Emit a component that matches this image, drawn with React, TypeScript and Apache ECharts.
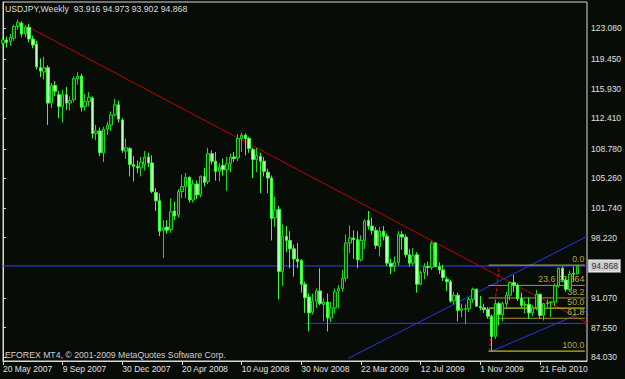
import React, { useEffect, useRef } from "react";
import * as echarts from "echarts";

// Weekly USDJPY bars, bar 0 = week of 20 May 2007
const opens = [
  121.3, 121.7, 121.5, 121.9, 123.3, 123.7, 122.4, 123.2, 121.8, 121.2,
  118.4, 117.9, 118.4, 114.2, 116.3, 115.2, 113.8, 115.2, 114.2, 114.6,
  117.1, 117.4, 113.8, 114.4, 114.8, 110.6, 110.9, 108.3, 111.1, 111.6,
  112.8, 114.0, 112.2, 108.5, 108.8, 106.9, 106.7, 106.5, 106.9, 107.8,
  107.1, 103.6, 102.6, 99.1, 99.5, 99.2, 101.4, 100.9, 103.7, 104.3,
  105.4, 102.7, 104.6, 103.3, 105.5, 104.9, 108.2, 107.3, 106.1, 106.8,
  106.3, 107.0, 107.8, 107.7, 110.0, 110.4, 110.0, 108.7, 107.5, 107.9,
  107.3, 106.0, 105.3, 100.6, 101.6, 94.2, 98.4, 97.9, 96.9, 95.7,
  95.5, 92.7, 91.2, 89.4, 90.7, 91.9, 90.3, 90.6, 88.7, 89.9,
  91.9, 92.2, 93.4, 97.6, 98.2, 98.0, 95.6, 97.9, 100.3, 99.6,
  99.1, 97.2, 99.0, 98.4, 95.2, 94.8, 95.3, 98.6, 98.3, 96.2,
  95.2, 96.2, 92.7, 94.1, 94.8, 94.7, 97.6, 94.8, 94.4, 93.3,
  93.0, 90.7, 91.4, 89.6, 89.7, 89.8, 90.9, 92.1, 90.1, 89.9,
  89.7, 88.9, 86.5, 90.4, 89.1, 90.4, 91.4, 92.9, 92.6, 91.0,
  90.2, 90.3, 89.3, 89.9, 91.5, 89.0, 90.4, 90.5, 90.6, 92.5,
  94.6, 93.2, 92.1, 94.0, 93.916,
];
const highs = [
  122.0, 122.1, 122.4, 123.5, 124.1, 123.9, 123.4, 123.6, 122.2, 121.6,
  119.5, 119.7, 118.7, 116.6, 116.8, 115.6, 115.8, 116.1, 115.0, 117.4,
  117.9, 117.7, 115.3, 115.5, 115.0, 111.6, 111.3, 111.4, 112.0, 113.2,
  114.7, 114.5, 112.4, 110.0, 109.0, 107.9, 107.4, 107.8, 108.5, 108.3,
  108.0, 104.1, 103.5, 100.3, 100.3, 102.9, 102.5, 104.0, 105.7, 105.9,
  105.5, 105.1, 105.0, 105.6, 106.5, 108.9, 108.6, 108.4, 107.1, 107.6,
  107.8, 108.2, 108.4, 110.5, 110.7, 110.6, 110.2, 108.9, 108.9, 108.3,
  107.8, 106.4, 105.6, 103.1, 102.0, 99.8, 99.6, 99.0, 97.4, 97.6,
  95.7, 93.0, 91.6, 91.6, 92.2, 94.6, 91.0, 91.6, 90.6, 92.2,
  92.6, 94.4, 98.6, 99.7, 99.1, 99.0, 98.5, 100.4, 101.4, 100.6,
  99.5, 99.5, 99.6, 98.7, 95.7, 96.0, 99.0, 99.0, 98.6, 96.9,
  97.0, 96.5, 94.3, 95.2, 95.4, 97.8, 97.7, 95.3, 95.0, 93.6,
  93.2, 91.8, 91.7, 90.4, 90.3, 91.2, 92.3, 92.2, 91.3, 90.4,
  90.0, 89.1, 90.8, 90.6, 90.6, 91.8, 93.0, 93.8, 92.8, 91.7,
  90.7, 91.1, 90.2, 92.0, 91.6, 90.5, 90.9, 90.7, 92.8, 94.7,
  94.8, 93.5, 94.3, 94.8, 94.973,
];
const lows = [
  120.9, 120.8, 121.0, 121.6, 122.9, 122.0, 122.0, 121.4, 120.7, 118.2,
  117.3, 117.0, 111.6, 113.6, 115.0, 112.4, 111.9, 113.4, 113.3, 114.3,
  116.4, 113.2, 113.3, 113.8, 110.0, 109.8, 107.9, 107.2, 110.4, 110.9,
  112.6, 111.9, 108.3, 107.6, 105.5, 104.9, 105.9, 105.5, 106.2, 106.6,
  103.5, 101.4, 98.4, 95.8, 98.7, 98.8, 100.3, 100.6, 102.9, 102.9,
  102.4, 102.4, 102.8, 103.0, 104.3, 104.6, 106.9, 105.0, 104.9, 105.6,
  103.8, 106.0, 107.2, 107.3, 108.4, 108.0, 108.3, 105.3, 106.0, 103.5,
  105.5, 103.5, 97.9, 99.5, 90.9, 92.5, 96.5, 94.6, 93.6, 94.6,
  91.7, 89.3, 87.1, 89.1, 89.9, 90.2, 88.3, 87.1, 88.2, 89.2,
  89.8, 91.8, 93.0, 96.4, 95.7, 94.6, 95.4, 96.9, 99.2, 98.6,
  96.9, 96.0, 97.9, 94.9, 93.9, 94.2, 94.9, 96.8, 95.9, 94.8,
  94.9, 91.7, 92.6, 93.3, 93.7, 94.4, 94.7, 93.9, 93.1, 91.9,
  90.5, 90.3, 88.3, 88.8, 88.0, 89.4, 90.5, 90.0, 89.6, 89.3,
  88.6, 84.77, 86.2, 87.8, 88.3, 90.0, 90.8, 91.8, 90.7, 89.9,
  89.2, 88.6, 88.9, 89.6, 88.6, 88.4, 90.0, 88.8, 90.1, 92.3,
  93.0, 91.8, 91.9, 93.1, 93.902,
];
const closes = [
  121.7, 121.4, 122.0, 123.3, 123.8, 122.4, 123.2, 121.8, 121.1, 118.5,
  118.0, 118.4, 114.2, 116.3, 115.6, 113.8, 115.2, 114.2, 114.5, 117.1,
  117.4, 113.7, 114.4, 114.9, 110.6, 110.9, 108.3, 111.1, 111.6, 112.8,
  114.0, 112.3, 108.6, 108.9, 106.9, 106.7, 106.5, 107.2, 107.8, 107.1,
  103.7, 102.6, 99.0, 99.4, 99.1, 101.3, 100.8, 103.7, 104.3, 105.4,
  102.7, 104.6, 103.3, 105.5, 104.8, 108.2, 107.3, 106.1, 106.6, 106.3,
  107.0, 107.8, 107.6, 110.0, 110.4, 110.0, 108.8, 107.5, 108.0, 107.3,
  106.1, 105.3, 100.5, 101.5, 94.2, 98.4, 97.9, 96.9, 95.7, 95.4,
  92.7, 91.1, 89.3, 90.7, 91.9, 90.4, 90.6, 88.7, 89.9, 91.8,
  92.2, 93.4, 97.6, 98.2, 98.0, 95.6, 97.9, 100.2, 99.6, 99.1,
  97.3, 99.0, 98.4, 95.2, 94.8, 95.3, 98.6, 98.3, 96.2, 95.2,
  96.1, 92.7, 94.1, 94.8, 94.7, 97.6, 94.8, 94.4, 93.5, 93.0,
  90.7, 91.4, 89.6, 89.8, 89.8, 90.9, 92.1, 90.1, 89.9, 89.7,
  88.9, 86.5, 90.4, 89.1, 90.4, 91.4, 92.9, 92.6, 91.0, 90.2,
  90.3, 89.3, 89.9, 91.5, 89.0, 90.4, 90.5, 90.6, 92.5, 94.6,
  93.2, 92.1, 93.9, 93.9, 94.868,
];

const xTickIndex = [0, 16, 32, 48, 64, 80, 96, 112, 128, 144];
const xTickLabels = [
  "20 May 2007", "9 Sep 2007", "30 Dec 2007", "20 Apr 2008", "10 Aug 2008",
  "30 Nov 2008", "22 Mar 2009", "12 Jul 2009", "1 Nov 2009", "21 Feb 2010",
];
const yTickValues = [84.03, 87.55, 91.07, 98.22, 101.74, 105.26, 108.78, 112.41, 115.93, 119.45, 123.08];

const redTrend = [[4.8, 123.7], [156.6, 88.12]];
const blueUpTrend = [[92.6, 83.91], [156.6, 98.38]];
const blueLowTrend = [[131.1, 84.77], [156.6, 89.6]];
const blueRay = [[81.1, 88.06], [156.6, 88.06]];
const bidLine = [[0, 94.868], [156.6, 94.868]];
const bidPrice = 94.868;

const fibHigh = 94.973;
const fibLow = 84.765;
const fibRange = [130.2, 156.0];
const fibLevels = [0, 23.6, 38.2, 50, 61.8, 100];
const fibTexts = ["0.0", "23.6 92.564", "38.2", "50.0", "61.8", "100.0"];
const fibColors = ["#c2b03a", "#a8962e", "#a8962e", "#f0ec28", "#a8962e", "#eee22a"];
const fibDiagonal = [[130.4, fibLow], [133.1, fibHigh]];

const titleText = "USDJPY,Weekly  93.916 94.973 93.902 94.868";
const footerText = "EFOREX MT4, \u00a9 2001-2009 MetaQuotes Software Corp.";

const FONT = "Liberation Sans, Arial, sans-serif";
const X_MIN = 0;
const X_MAX = 156.6;

export default function App() {
  const ref = useRef<HTMLDivElement>(null);

  useEffect(() => {
    if (!ref.current) return;
    const chart = echarts.init(ref.current, null, { renderer: "svg" });

    const candles = opens.map((o, i) => [i, o, closes[i], lows[i], highs[i]]);
    const fibValue = (lvl: number) => fibHigh - (lvl / 100) * (fibHigh - fibLow);

    const lineSeries = (name: string, data: number[][], color: string, extra: any = {}) => ({
      type: "line",
      name,
      data,
      symbol: "none",
      silent: true,
      z: 2,
      lineStyle: { color, width: 1, ...extra },
      animation: false,
    });

    const fibSeries = fibLevels.map((lvl, k) =>
      lineSeries(
        "fib" + lvl,
        [[fibRange[0], fibValue(lvl)], [fibRange[1], fibValue(lvl)]],
        fibColors[k]
      )
    );

    const option: any = {
      animation: false,
      backgroundColor: "#070c07",
      title: {
        text: titleText,
        left: 5,
        top: 4,
        padding: 0,
        textStyle: { color: "#dcdcdc", fontSize: 8.7, fontWeight: "normal", fontFamily: FONT },
      },
      graphic: [
        {
          type: "text",
          left: 5,
          top: 350,
          silent: true,
          style: { text: footerText, fill: "#cfcfcf", fontSize: 8.7, fontFamily: FONT },
        },
      ],
      grid: {
        left: 2,
        right: 38,
        top: 2,
        bottom: 18,
        show: true,
        borderColor: "#d8d8d8",
        borderWidth: 1,
        backgroundColor: "transparent",
      },
      xAxis: {
        type: "value",
        min: X_MIN,
        max: X_MAX,
        splitLine: { show: false },
        axisLine: { show: true, lineStyle: { color: "#d8d8d8" } },
        axisTick: { show: true, customValues: xTickIndex, length: 4, lineStyle: { color: "#d8d8d8" } },
        axisLabel: {
          customValues: xTickIndex,
          formatter: (v: number) => {
            const k = xTickIndex.indexOf(Math.round(v));
            return k >= 0 ? xTickLabels[k] : "";
          },
          align: "left",
          margin: 3,
          color: "#e0e0e0",
          fontSize: 8.5,
          fontFamily: FONT,
        },
      },
      yAxis: {
        type: "value",
        position: "right",
        min: 83.59,
        max: 126.2,
        splitLine: { show: false },
        axisLine: { show: true, lineStyle: { color: "#d8d8d8" } },
        axisTick: { show: true, customValues: yTickValues, length: 3, lineStyle: { color: "#d8d8d8" } },
        axisLabel: {
          customValues: yTickValues,
          formatter: (v: number) => v.toFixed(3),
          margin: 4,
          color: "#e0e0e0",
          fontSize: 8.5,
          fontFamily: FONT,
        },
      },
      series: [
        lineSeries("bid", bidLine, "#3444ff"),
        lineSeries("ray", blueRay, "#2c3cff"),
        lineSeries("up", blueUpTrend, "#2a36e8"),
        lineSeries("low", blueLowTrend, "#2a36e8"),
        lineSeries("red", redTrend, "#c00000"),
        ...fibSeries,
        lineSeries("fibdiag", fibDiagonal, "#e01010", { type: [3, 2] }),
        {
          type: "scatter",
          name: "fibLabels",
          silent: true,
          z: 2,
          symbolSize: 1,
          itemStyle: { color: "rgba(0,0,0,0)" },
          data: fibLevels.map((lvl, k) => [fibRange[1], fibValue(lvl), fibTexts[k]]),
          label: {
            show: true,
            position: "left",
            distance: 0,
            offset: [0, -6],
            formatter: (p: any) => p.data[2],
            color: "#e2d24a",
            fontSize: 8.7,
            fontFamily: FONT,
          },
        },
        {
          type: "candlestick",
          name: "USDJPY",
          z: 4,
          barWidth: 3,
          data: candles,
          encode: { x: 0, y: [1, 2, 3, 4] },
          itemStyle: {
            color: "#0c3a0c",
            color0: "#bfffbf",
            borderColor: "#1ed81e",
            borderColor0: "#30ff30",
            borderWidth: 1,
          },
        },
        {
          type: "scatter",
          name: "bidTag",
          silent: true,
          clip: false,
          z: 6,
          symbolSize: 1,
          itemStyle: { color: "rgba(0,0,0,0)" },
          data: [[X_MAX, bidPrice]],
          label: {
            show: true,
            position: "right",
            distance: 1,
            formatter: () => bidPrice.toFixed(3),
            color: "#000000",
            backgroundColor: "#ffffff",
            borderColor: "#9a9a9a",
            borderWidth: 1,
            padding: [2, 2, 1, 3],
            fontSize: 8.7,
            fontFamily: FONT,
          },
        },
      ],
    };

    chart.setOption(option);
    return () => chart.dispose();
  }, []);

  return (
    <div
      ref={ref}
      style={{ position: "fixed", left: 0, top: 0, width: 625, height: 379 }}
    />
  );
}
